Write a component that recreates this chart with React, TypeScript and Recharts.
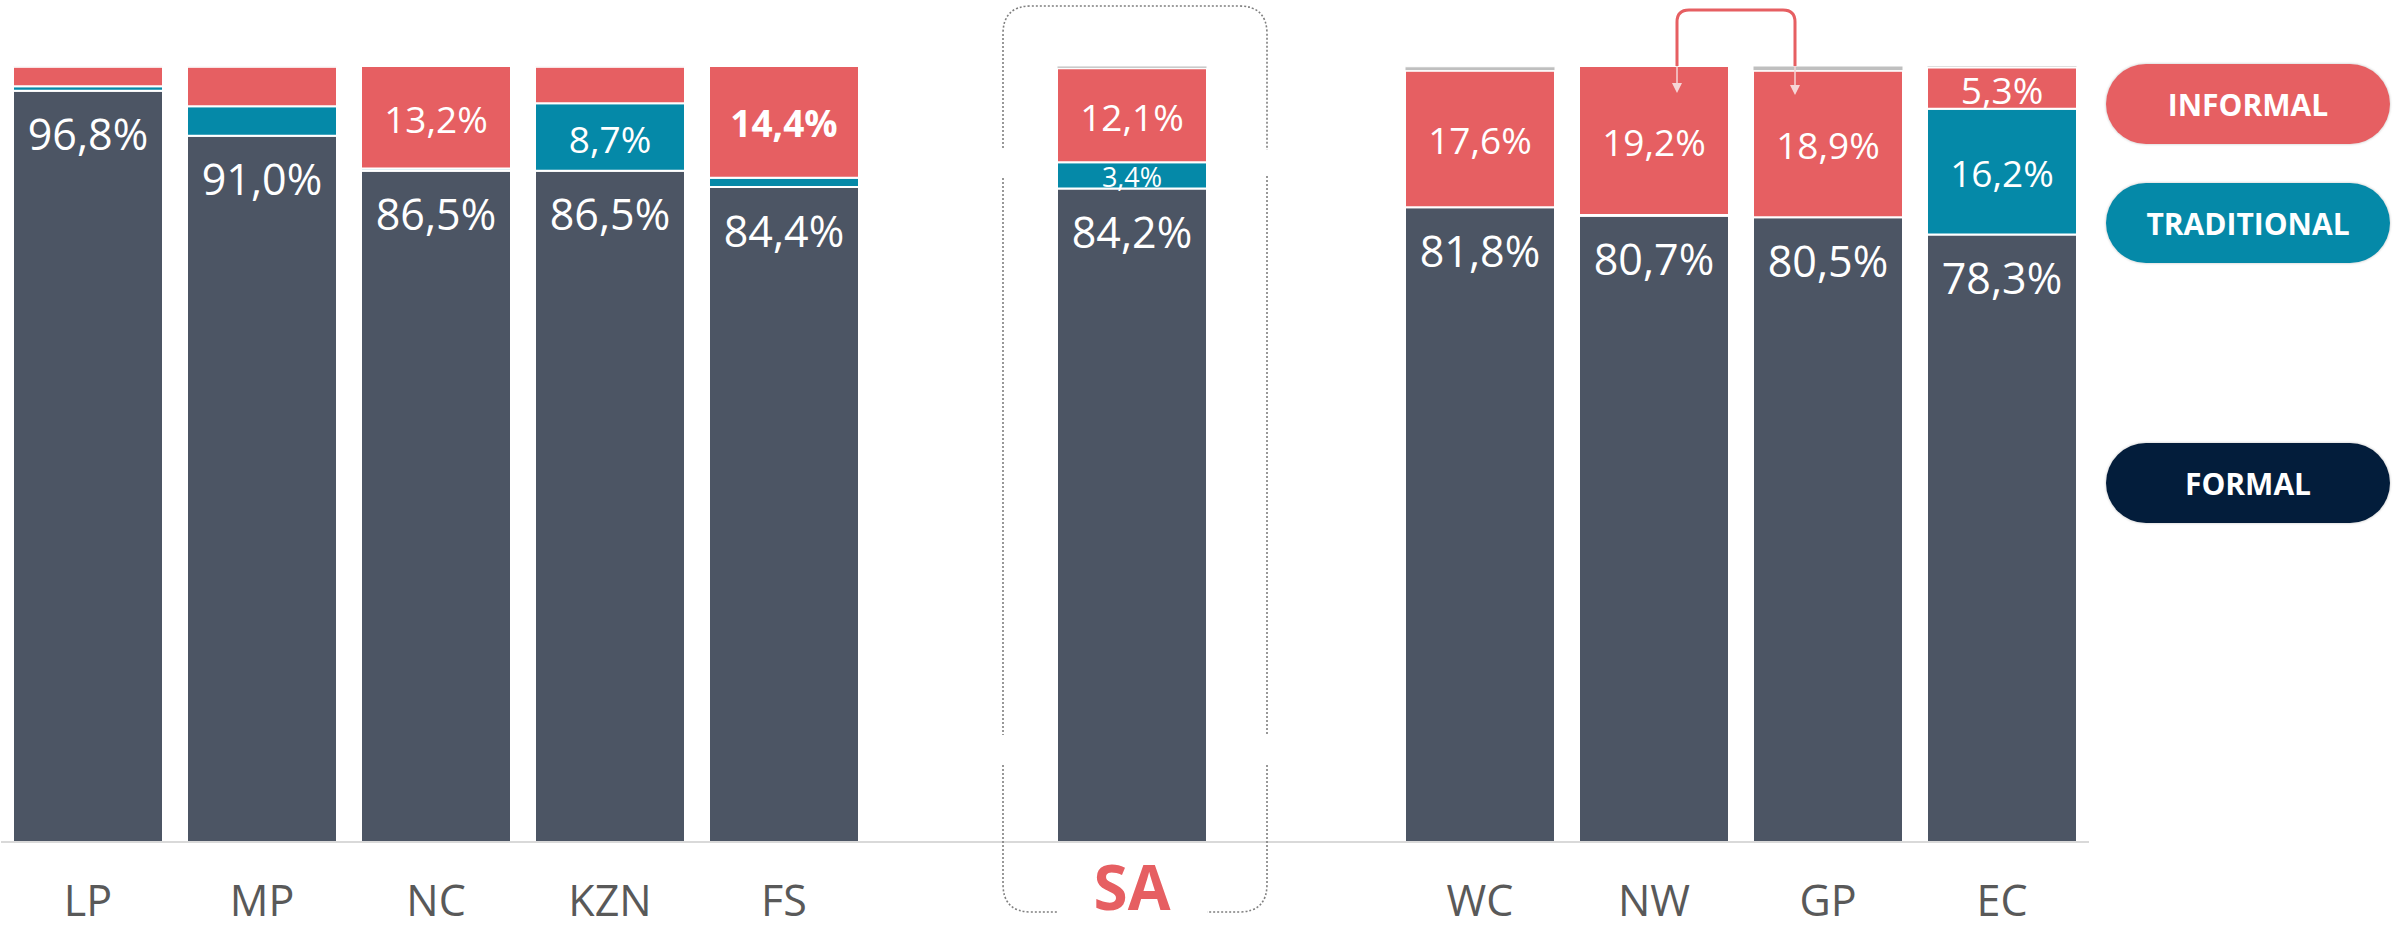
import { Bar, BarChart, LabelList, Legend, XAxis, YAxis } from "recharts"

const categories = ["LP", "MP", "NC", "KZN", "FS", "", "SA", "", "WC", "NW", "GP", "EC"]
const formal = [96.8, 91.0, 86.5, 86.5, 84.4, null, 84.2, null, 81.8, 80.7, 80.5, 78.3]
const traditional = [0.6, 3.8, 0.3, 8.7, 1.2, null, 3.4, null, 0, 0.1, 0, 16.2]
const informal = [2.5, 5.1, 13.2, 4.7, 14.4, null, 12.1, null, 17.6, 19.2, 18.9, 5.3]
const other = [0.1, 0.1, 0, 0.1, 0, null, 0.3, null, 0.5, 0, 0.6, 0.2]

// which segments carry a value label
const showTraditional = ["KZN", "SA", "EC"]
const showInformal = ["NC", "FS", "SA", "WC", "NW", "GP", "EC"]
const boldLabels = ["FS"]

const legendItems = [
    { name: "INFORMAL", color: "#E65F62", top: 64 },
    { name: "TRADITIONAL", color: "#0589A8", top: 183 },
    { name: "FORMAL", color: "#031D3B", top: 443 },
]

const FONT = "'Open Sans', 'Noto Sans', sans-serif"

const fmt = (v: number | null) => (v == null ? "" : v.toFixed(1).replace(".", ",") + "%")

const data = categories.map((name, i) => ({
    name,
    formal: formal[i],
    traditional: traditional[i],
    informal: informal[i],
    other: other[i],
    formalLabel: fmt(formal[i]),
    traditionalLabel: showTraditional.includes(name) ? fmt(traditional[i]) : "",
    informalLabel: showInformal.includes(name) ? fmt(informal[i]) : "",
    bold: boldLabels.includes(name),
}))

function box(props: any) {
    const vb = props.viewBox && props.viewBox.width != null ? props.viewBox : props
    return { x: Number(vb.x), y: Number(vb.y), width: Number(vb.width), height: Number(vb.height) }
}

function TopLabel(props: any) {
    if (!props.value) return null
    const { x, y, width } = box(props)
    return (
        <text x={x + width / 2} y={y + 43} textAnchor="middle" dominantBaseline="central"
            fill="#fff" fontSize={43} fontFamily={FONT}>
            {props.value}
        </text>
    )
}

function MidLabel(props: any) {
    if (!props.value) return null
    const { x, y, width, height } = box(props)
    const row = props.index != null ? data[props.index] : null
    const small = Math.abs(height) < 34
    return (
        <text x={x + width / 2} y={y + height / 2 + 1} textAnchor="middle" dominantBaseline="central"
            fill="#fff" fontSize={small ? 27 : 37} fontWeight={row && row.bold ? 700 : 400} fontFamily={FONT}>
            {props.value}
        </text>
    )
}

function CategoryTick(props: any) {
    const { x, y, payload } = props
    if (!payload || !payload.value) return <g />
    const isSA = payload.value === "SA"
    return (
        <text x={x} y={y + (isSA ? 60 : 66)} textAnchor="middle" fontFamily={FONT}
            fill={isSA ? "#E65F62" : "#595959"} fontSize={isSA ? 62 : 43} fontWeight={isSA ? 700 : 400}>
            {payload.value}
        </text>
    )
}

function LegendPills() {
    return (
        <div style={{ position: "relative", width: 284, height: 470 }}>
            {legendItems.map((item) => (
                <div key={item.name} style={{
                    position: "absolute", left: 0, top: item.top - 64, width: 284, height: 80,
                    borderRadius: 40, background: item.color, color: "#fff", fontFamily: FONT,
                    fontWeight: 700, fontSize: 30, display: "flex", alignItems: "center",
                    justifyContent: "center", boxShadow: "0 0 2px 1px rgba(0,0,0,0.12)",
                }}>
                    {item.name}
                </div>
            ))}
        </div>
    )
}

function Overlay() {
    // dotted frame around the SA column, with gaps, and the connector over NW / GP
    const l = 1003, r = 1267, t = 6, b = 912, rad = 28
    return (
        <svg width={2394} height={930} style={{ position: "absolute", left: 0, top: 0, pointerEvents: "none" }}>
            <g fill="none" stroke="#7F7F7F" strokeWidth={1.6} strokeDasharray="2 2">
                <path d={`M${l} 148 L${l} ${t + rad} Q${l} ${t} ${l + rad} ${t} L${r - rad} ${t} Q${r} ${t} ${r} ${t + rad} L${r} 150`} />
                <path d={`M${l} 178 L${l} 735`} />
                <path d={`M${r} 176 L${r} 735`} />
                <path d={`M${l} 765 L${l} ${b - rad} Q${l} ${b} ${l + rad} ${b} L1057 ${b}`} />
                <path d={`M${r} 765 L${r} ${b - rad} Q${r} ${b} ${r - rad} ${b} L1207 ${b}`} />
            </g>
            <path d="M1677 66 L1677 22 Q1677 10 1689 10 L1783 10 Q1795 10 1795 22 L1795 66"
                fill="none" stroke="#E65F62" strokeWidth={3} />
            <path d="M1677 66 L1677 86 M1795 66 L1795 88" stroke="#F6D5D6" strokeWidth={1.5} />
            <path d="M1672 83 L1682 83 L1677 93 Z M1790 85 L1800 85 L1795 95 Z" fill="#F6D5D6" />
        </svg>
    )
}

export default function App() {
    return (
        <div style={{ position: "relative", width: 2394, height: 930, background: "#fff" }}>
            <style>{`body{margin:0}`}</style>
            <BarChart width={2394} height={930} data={data}
                margin={{ top: 66, right: 305, left: 1, bottom: 0 }} barSize={150}>
                <XAxis dataKey="name" interval={0} tickLine={false} tick={<CategoryTick />}
                    axisLine={{ stroke: "#D9D9D9", strokeWidth: 2 }} height={88} />
                <YAxis hide domain={[0, 100]} allowDataOverflow />
                <Legend layout="vertical" align="center" verticalAlign="middle"
                    wrapperStyle={{ left: 2106, top: 64, width: 284 }} content={<LegendPills />} />
                <Bar dataKey="formal" stackId="a" fill="#4C5564" stroke="#fff" strokeWidth={2} isAnimationActive={false}>
                    <LabelList dataKey="formalLabel" content={<TopLabel />} />
                </Bar>
                <Bar dataKey="traditional" stackId="a" fill="#0589A8" stroke="#fff" strokeWidth={2} isAnimationActive={false}>
                    <LabelList dataKey="traditionalLabel" content={<MidLabel />} />
                </Bar>
                <Bar dataKey="informal" stackId="a" fill="#E65F62" stroke="#fff" strokeWidth={2} isAnimationActive={false}>
                    <LabelList dataKey="informalLabel" content={<MidLabel />} />
                </Bar>
                <Bar dataKey="other" stackId="a" fill="#BFBFBF" stroke="#fff" strokeWidth={1} isAnimationActive={false} />
            </BarChart>
            <Overlay />
        </div>
    )
}
